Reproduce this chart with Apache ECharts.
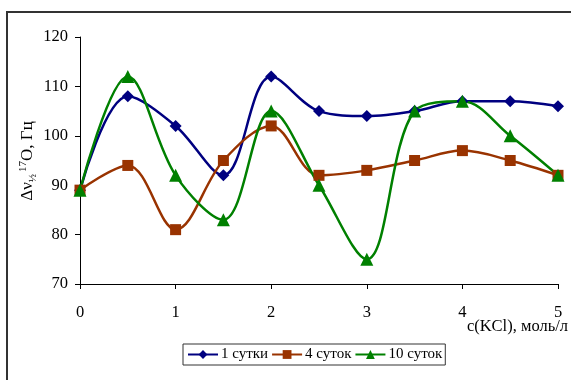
<!DOCTYPE html>
<html><head><meta charset="utf-8">
<script src="https://cdn.jsdelivr.net/npm/echarts@6/dist/echarts.min.js"></script>
<style>html,body{margin:0;padding:0;background:#fff}#c{width:571px;height:380px}</style>
</head><body><div id="c"></div>
<script>
const xValues = [0, 0.5, 1, 1.5, 2, 2.5, 3, 3.5, 4, 4.5, 5];
const series1 = [89, 108, 102, 92, 112, 105, 104, 105, 107, 107, 106];
const series4 = [89, 94, 81, 95, 102, 92, 93, 95, 97, 95, 92];
const series10 = [89, 112, 92, 83, 105, 90, 75, 105, 107, 100, 92];
const seriesNames = ['1 сутки', '4 суток', '10 суток'];
const xTicks = [0, 1, 2, 3, 4, 5];
const yTicks = [70, 80, 90, 100, 110, 120];
const xTitle = 'c(KCl), моль/л';
const yTitle = 'Δν{sub|½}{sup|17}O, Гц';

const font = 'Liberation Serif';
function pairs(v){ return xValues.map((x,i)=>[x, v[i]]); }
const chart = echarts.init(document.getElementById('c'));
chart.setOption({
  animation: false,
  textStyle: {fontFamily: font},
  graphic: [
    {type:'rect', shape:{x:7, y:12, width:600, height:400}, style:{fill:'none', stroke:'#333', lineWidth:2}, silent:true},
    {type:'text', x: 568, y: 327, style: {text: xTitle, font: '16.5px "Liberation Serif"', fill: '#000', align: 'right', verticalAlign: 'middle'}},
    {type:'text', x: 28, y: 161, rotation: Math.PI/2,
      style: {text: yTitle, font: '17px "Liberation Serif"', fill: '#000', align: 'center', verticalAlign: 'middle',
        rich: {sub: {font: '11px "Liberation Serif"', fill: '#000', verticalAlign: 'bottom', padding:[8,2,0,0]},
               sup: {font: '11px "Liberation Serif"', fill: '#000', verticalAlign: 'top', padding:[0,0,10,0]}}}}
  ],
  grid: {left: 80, right: 13, top: 37, bottom: 96, containLabel: false, outerBoundsMode: 'none'},
  legend: {
    left: 183, top: 344, width: 400,
    borderColor: '#333', borderWidth: 1, padding: [3, 3, 3, 4],
    itemWidth: 30, itemHeight: 11, itemGap: 3,
    textStyle: {fontFamily: font, fontSize: 15, color: '#000', padding: [0, 0, 0, -2]},
    data: seriesNames
  },
  xAxis: {
    type: 'value', min: xTicks[0], max: xTicks[xTicks.length-1], interval: 1,
    axisLine: {lineStyle: {color: '#000', width: 1}},
    axisTick: {inside: false, length: 5, lineStyle: {color: '#000'}},
    axisLabel: {fontFamily: font, fontSize: 16.5, color: '#000', margin: 20},
    splitLine: {show: false}
  },
  yAxis: {
    type: 'value', min: yTicks[0], max: yTicks[yTicks.length-1], interval: 10,
    axisLine: {show: true, lineStyle: {color: '#000', width: 1}},
    axisTick: {show: true, inside: false, length: 5, lineStyle: {color: '#000'}},
    axisLabel: {fontFamily: font, fontSize: 16.5, color: '#000', margin: 12},
    splitLine: {show: false}
  },
  series: [
    {name: seriesNames[0], type: 'line', data: pairs(series1), smooth: 0.35, symbol: 'diamond', symbolSize: 12,
      lineStyle: {color: '#000080', width: 2.5}, itemStyle: {color: '#000080'}},
    {name: seriesNames[1], type: 'line', data: pairs(series4), smooth: 0.35, symbol: 'rect', symbolSize: 11,
      lineStyle: {color: '#993300', width: 2.5}, itemStyle: {color: '#993300'}},
    {name: seriesNames[2], type: 'line', data: pairs(series10), smooth: 0.35, symbol: 'triangle', symbolSize: 13,
      lineStyle: {color: '#008000', width: 2.5}, itemStyle: {color: '#008000'}}
  ]
});
</script></body></html>
